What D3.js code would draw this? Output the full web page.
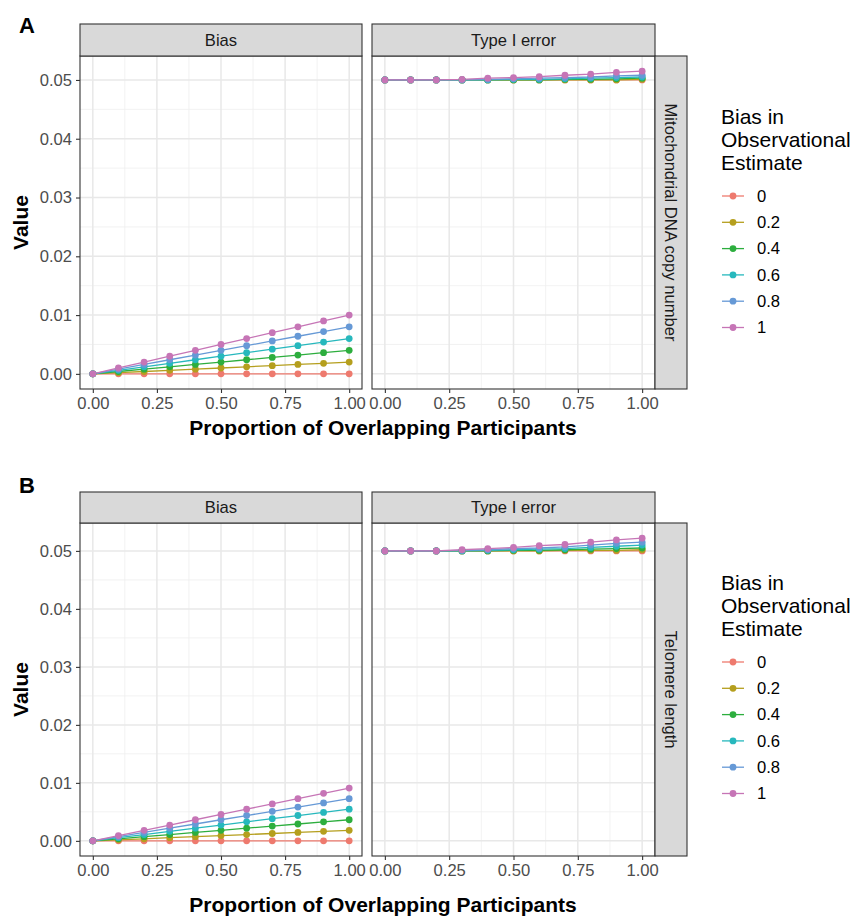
<!DOCTYPE html>
<html><head><meta charset="utf-8">
<script src="https://cdn.jsdelivr.net/npm/d3@7"></script>
<style>body{margin:0;background:#fff}svg{display:block;font-family:"Liberation Sans",Arial,sans-serif}</style>
</head><body><svg id="c" width="854" height="917"></svg>
<script>
const proportions = [0,0.1,0.2,0.3,0.4,0.5,0.6,0.7,0.8,0.9,1.0];
const biasLevels = ["0","0.2","0.4","0.6","0.8","1"];
const xTicks = [0,0.25,0.5,0.75,1.0];
const yTicks = [0,0.01,0.02,0.03,0.04,0.05];
const colors = ["#EE7A6E","#B59F1E","#2DAE3E","#27B8BD","#6699D6","#C675B6"];
const facetCols = ["Bias","Type I error"];
const rowLabels = ["Mitochondrial DNA copy number","Telomere length"];
const panelLetters = ["A","B"];

// Panel A: Mitochondrial DNA copy number
const mtBias = [
  [0,0,0,0,0,0,0,0,0,0,0],
  [0,0.0002,0.0004,0.0006,0.0008,0.0010,0.0012,0.0014,0.0016,0.0018,0.0020],
  [0,0.0004,0.0008,0.0012,0.0016,0.0020,0.0024,0.0028,0.0032,0.0036,0.0040],
  [0,0.0006,0.0012,0.0018,0.0024,0.0030,0.0036,0.0042,0.0048,0.0054,0.0060],
  [0,0.0008,0.0016,0.0024,0.0032,0.0040,0.0048,0.0056,0.0064,0.0072,0.0080],
  [0,0.0010,0.0020,0.0030,0.0040,0.0050,0.0060,0.0070,0.0080,0.0090,0.0100]
];
const mtTypeI = [
  [0.0500,0.0500,0.0500,0.0500,0.0500,0.0500,0.0500,0.0500,0.0500,0.0500,0.0500],
  [0.0500,0.0500,0.0500,0.0500,0.0500,0.0500,0.0500,0.0500,0.0500,0.0500,0.0501],
  [0.0500,0.0500,0.0500,0.0500,0.0500,0.0500,0.0500,0.0501,0.0501,0.0502,0.0503],
  [0.0500,0.0500,0.0500,0.0500,0.0500,0.0501,0.0501,0.0502,0.0503,0.0504,0.0505],
  [0.0500,0.0500,0.0500,0.0500,0.0501,0.0502,0.0503,0.0504,0.0505,0.0507,0.0508],
  [0.0500,0.0500,0.0500,0.0501,0.0503,0.0504,0.05055,0.0508,0.0510,0.0513,0.0515]
];
// Panel B: Telomere length
const tlBias = [
  [0,0,0,0,0,0,0,0,0,0,0],
  [0,0.00018,0.00036,0.00055,0.00073,0.00091,0.00109,0.00127,0.00146,0.00164,0.00182],
  [0,0.00036,0.00073,0.00109,0.00146,0.00182,0.00218,0.00255,0.00291,0.00328,0.00364],
  [0,0.00055,0.00109,0.00164,0.00218,0.00273,0.00328,0.00382,0.00437,0.00491,0.00546],
  [0,0.00073,0.00146,0.00218,0.00291,0.00364,0.00437,0.00510,0.00582,0.00655,0.00728],
  [0,0.00091,0.00182,0.00273,0.00364,0.00455,0.00546,0.00637,0.00728,0.00819,0.00910]
];
const tlTypeI = [
  [0.0500,0.0500,0.0500,0.0500,0.0500,0.0500,0.0500,0.0500,0.0500,0.0500,0.0500],
  [0.0500,0.0500,0.0500,0.0500,0.0500,0.0500,0.0500,0.0501,0.0501,0.0501,0.0502],
  [0.0500,0.0500,0.0500,0.0500,0.0500,0.0501,0.0501,0.0502,0.0503,0.0504,0.0505],
  [0.0500,0.0500,0.0500,0.0500,0.0501,0.0502,0.0503,0.0504,0.0506,0.0508,0.0510],
  [0.0500,0.0500,0.0500,0.0501,0.0502,0.0504,0.0505,0.0507,0.0510,0.0513,0.0515],
  [0.0500,0.0500,0.0500,0.0502,0.0504,0.0506,0.0509,0.0511,0.0515,0.0519,0.0522]
];

const svg = d3.select("#c");
const FS = 16.6, FT = 21;
const tickCol = "#4D4D4D", border = "#333333";

const rows = [
  {top:24, stripH:32, bottom:389, data:[mtBias, mtTypeI], letterY:33, xTitleY:435, legendY:105},
  {top:492, stripH:31, bottom:856, data:[tlBias, tlTypeI], letterY:493, xTitleY:912, legendY:571}
];
const colX = [[80,362],[372,655]];
const rStrip = [655,687];

rows.forEach((row, ri) => {
  const pTop = row.top + row.stripH;
  const allVals = row.data.flat(2);
  const ymin = d3.min(allVals), ymax = d3.max(allVals);
  const ypad = (ymax - ymin) * 0.05;
  const y = d3.scaleLinear().domain([ymin - ypad, ymax + ypad]).range([row.bottom, pTop]);
  const yMinor = d3.range(-0.005, 0.06, 0.01).filter(v => v > y.domain()[0] && v < y.domain()[1]);

  row.data.forEach((series, ci) => {
    const [x0, x1] = colX[ci];
    const x = d3.scaleLinear().domain([-0.05, 1.05]).range([x0, x1]);
    const g = svg.append("g");
    g.append("rect").attr("x", x0).attr("y", pTop).attr("width", x1 - x0).attr("height", row.bottom - pTop).attr("fill", "#fff");
    const xMinor = [0.125,0.375,0.625,0.875];
    g.selectAll(".xm").data(xMinor).join("line").attr("x1", d => x(d)).attr("x2", d => x(d)).attr("y1", pTop).attr("y2", row.bottom).attr("stroke", "#EFEFEF").attr("stroke-width", 0.8);
    g.selectAll(".ym").data(yMinor).join("line").attr("y1", d => y(d)).attr("y2", d => y(d)).attr("x1", x0).attr("x2", x1).attr("stroke", "#EFEFEF").attr("stroke-width", 0.8);
    g.selectAll(".xM").data(xTicks).join("line").attr("x1", d => x(d)).attr("x2", d => x(d)).attr("y1", pTop).attr("y2", row.bottom).attr("stroke", "#E8E8E8").attr("stroke-width", 1.5);
    g.selectAll(".yM").data(yTicks).join("line").attr("y1", d => y(d)).attr("y2", d => y(d)).attr("x1", x0).attr("x2", x1).attr("stroke", "#E8E8E8").attr("stroke-width", 1.5);
    const line = d3.line().x((d, i) => x(proportions[i])).y(d => y(d));
    series.forEach((s, si) => {
      g.append("path").attr("d", line(s)).attr("fill", "none").attr("stroke", colors[si]).attr("stroke-width", 1.3);
    });
    series.forEach((s, si) => {
      g.selectAll(null).data(s).join("circle").attr("cx", (d, i) => x(proportions[i])).attr("cy", d => y(d)).attr("r", 3.4).attr("fill", colors[si]);
    });
    g.append("rect").attr("x", x0).attr("y", pTop).attr("width", x1 - x0).attr("height", row.bottom - pTop).attr("fill", "none").attr("stroke", border).attr("stroke-width", 1.1);
    g.append("rect").attr("x", x0).attr("y", row.top).attr("width", x1 - x0).attr("height", row.stripH).attr("fill", "#D9D9D9").attr("stroke", border).attr("stroke-width", 1.1);
    g.append("text").attr("x", (x0 + x1) / 2).attr("y", row.top + row.stripH / 2).attr("dy", "0.35em").attr("text-anchor", "middle").attr("font-size", FS).attr("fill", "#1A1A1A").text(facetCols[ci]);
    const xa = g.append("g").attr("transform", `translate(0,${row.bottom})`).call(d3.axisBottom(x).tickValues(xTicks).tickFormat(d3.format(".2f")).tickSize(4).tickPadding(4));
    xa.select(".domain").remove();
    xa.selectAll("line").attr("stroke", border).attr("stroke-width", 1.1);
    xa.selectAll("text").attr("font-size", FS).attr("fill", tickCol).attr("font-family", "Liberation Sans, Arial, sans-serif");
    if (ci === 0) {
      const ya = g.append("g").attr("transform", `translate(${x0},0)`).call(d3.axisLeft(y).tickValues(yTicks).tickFormat(d3.format(".2f")).tickSize(4).tickPadding(4));
      ya.select(".domain").remove();
      ya.selectAll("line").attr("stroke", border).attr("stroke-width", 1.1);
      ya.selectAll("text").attr("font-size", FS).attr("fill", tickCol).attr("font-family", "Liberation Sans, Arial, sans-serif");
    }
  });
  svg.append("rect").attr("x", rStrip[0]).attr("y", pTop).attr("width", rStrip[1] - rStrip[0]).attr("height", row.bottom - pTop).attr("fill", "#D9D9D9").attr("stroke", border).attr("stroke-width", 1.1);
  const cxs = (rStrip[0] + rStrip[1]) / 2, cys = (pTop + row.bottom) / 2;
  svg.append("text").attr("transform", `translate(${cxs},${cys}) rotate(90)`).attr("text-anchor", "middle").attr("dy", "0.35em").attr("font-size", FS).attr("fill", "#1A1A1A").text(rowLabels[ri]);
  svg.append("text").attr("x", 383).attr("y", row.xTitleY).attr("text-anchor", "middle").attr("font-size", FT).attr("font-weight", "bold").text("Proportion of Overlapping Participants");
  svg.append("text").attr("transform", `translate(28,${cys}) rotate(-90)`).attr("text-anchor", "middle").attr("font-size", FT).attr("font-weight", "bold").text("Value");
  svg.append("text").attr("x", 19).attr("y", row.letterY).attr("font-size", FT + 1).attr("font-weight", "bold").text(panelLetters[ri]);
  const lg = svg.append("g").attr("transform", `translate(721,${row.legendY})`);
  ["Bias in","Observational","Estimate"].forEach((t, i) => {
    lg.append("text").attr("x", 0).attr("y", 19 + i * 23).attr("font-size", FT).text(t);
  });
  biasLevels.forEach((b, i) => {
    const yy = 91 + i * 26.3;
    lg.append("line").attr("x1", 1).attr("x2", 23).attr("y1", yy).attr("y2", yy).attr("stroke", colors[i]).attr("stroke-width", 1.3);
    lg.append("circle").attr("cx", 12).attr("cy", yy).attr("r", 3.4).attr("fill", colors[i]);
    lg.append("text").attr("x", 36).attr("y", yy).attr("dy", "0.35em").attr("font-size", FS).attr("fill", "#000").text(b);
  });
});
</script></body></html>
